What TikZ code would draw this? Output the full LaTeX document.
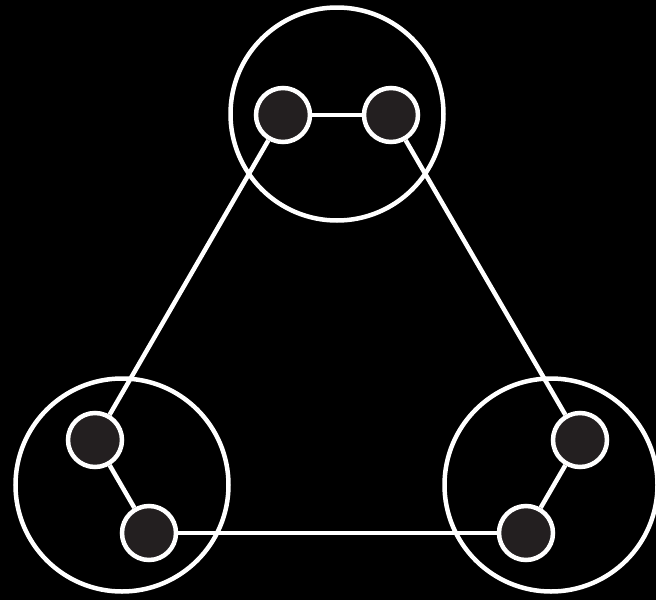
\documentclass[tikz,border=0pt]{standalone}
\definecolor{nodefill}{HTML}{231F20}
\begin{document}
\begin{tikzpicture}[x=1pt,y=-1pt,
  ring/.style={circle,draw=white,line width=4.5pt,minimum size=213pt,inner sep=0pt},
  dot/.style={circle,draw=white,fill=nodefill,line width=4.5pt,minimum size=54pt,inner sep=0pt},
  link/.style={draw=white,line width=4.5pt}]
\fill[black] (0,0) rectangle (656,600);
\useasboundingbox (0,0) rectangle (656,600);
\node[ring] (rt) at (337,114) {};
\node[ring] (rl) at (122,485) {};
\node[ring] (rr) at (551,485) {};
\node[dot] (t1) at (283,115) {};
\node[dot] (t2) at (391,115) {};
\node[dot] (l1) at (95,440) {};
\node[dot] (l2) at (149,533) {};
\node[dot] (r1) at (580,440) {};
\node[dot] (r2) at (526,533) {};
\draw[link] (t1) -- (t2);
\draw[link] (t1) -- (l1);
\draw[link] (t2) -- (r1);
\draw[link] (l1) -- (l2);
\draw[link] (r1) -- (r2);
\draw[link] (l2) -- (r2);
\end{tikzpicture}
\end{document}
